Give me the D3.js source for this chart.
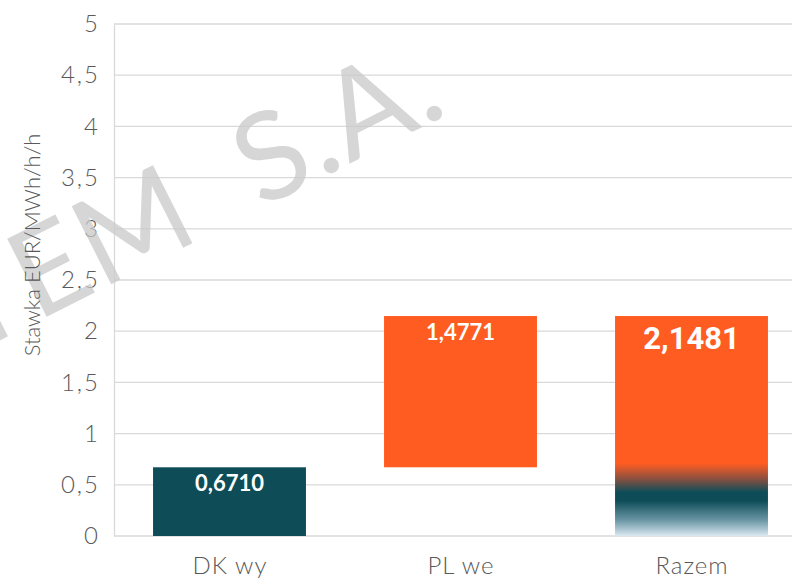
<!DOCTYPE html>
<html>
<head>
<meta charset="utf-8">
<script src="https://cdn.jsdelivr.net/npm/d3@7"></script>
<style>
  body { margin: 0; background: #fff; }
  svg { display: block; }
  text { font-family: Lato, "Noto Sans", sans-serif; }
</style>
</head>
<body>
<div id="vis"></div>
<script>
// dane wykresu (waterfall)
const categories = ["DK wy", "PL we", "Razem"];
const starts = [0, 0.6710, 0];
const values = [0.6710, 1.4771, 2.1481];
const labels = ["0,6710", "1,4771", "2,1481"];
const yTicks = [0, 0.5, 1, 1.5, 2, 2.5, 3, 3.5, 4, 4.5, 5];

const W = 792, H = 581;
const svg = d3.select("#vis").append("svg")
    .attr("width", W)
    .attr("height", H);

const x = d3.scaleBand()
    .domain(categories)
    .range([114, 807])
    .paddingInner(0.338)
    .paddingOuter(0.169);

const y = d3.scaleLinear()
    .domain([0, 5])
    .range([536, 24]);

const fmt = d => String(d).replace(".", ",");

// gradient dla słupka Razem
const defs = svg.append("defs");
const grad = defs.append("linearGradient")
    .attr("id", "razemGrad")
    .attr("x1", 0).attr("y1", 0).attr("x2", 0).attr("y2", 1);
[
  [0, "#ff5c22"], [0.67, "#ff5c22"], [0.74, "#8a5040"], [0.8, "#0e4d58"],
  [0.84, "#0e4d58"], [0.93, "#6d98a6"], [1, "#dce9f2"]
].forEach(([o, c]) => grad.append("stop").attr("offset", o).attr("stop-color", c));

// siatka
svg.append("g")
    .selectAll("line")
    .data(yTicks)
    .enter().append("line")
    .attr("x1", 114).attr("x2", W)
    .attr("y1", d => y(d)).attr("y2", d => y(d))
    .attr("stroke", "#d9d9d9")
    .attr("stroke-width", 1.3);

// oś y
const yAxis = svg.append("g")
    .attr("transform", "translate(114,0)")
    .call(d3.axisLeft(y).tickValues(yTicks).tickFormat(fmt).tickSize(0).tickPadding(14));
yAxis.select(".domain").attr("stroke", "#d9d9d9").attr("stroke-width", 1.3);
yAxis.selectAll("text")
    .attr("fill", "#595959")
    .style("font-weight", 300)
    .style("letter-spacing", "2px")
    .style("font-size", "24px");

// znak wodny
svg.append("text")
    .attr("transform", "translate(452,112) rotate(-26.8)")
    .attr("text-anchor", "end")
    .attr("fill", "#c8c8c8")
    .attr("fill-opacity", 0.75)
    .style("word-spacing", "30px")
    .style("letter-spacing", "2px")
    .style("font-size", "122px")
    .text("GAZ-SYSTEM S.A.");

// słupki
const colors = ["#0e4d58", "#ff5c22", "url(#razemGrad)"];
svg.selectAll(".bar")
    .data(categories)
    .enter().append("rect")
    .attr("class", "bar")
    .attr("x", d => x(d))
    .attr("width", x.bandwidth())
    .attr("y", (d, i) => y(starts[i] + values[i]))
    .attr("height", (d, i) => y(starts[i]) - y(starts[i] + values[i]))
    .attr("fill", (d, i) => colors[i]);

// etykiety danych
svg.selectAll(".lbl")
    .data(categories)
    .enter().append("text")
    .attr("class", "lbl")
    .attr("x", d => x(d) + x.bandwidth() / 2)
    .attr("y", (d, i) => y(starts[i] + values[i]) + (i === 2 ? 33 : 24))
    .attr("text-anchor", "middle")
    .attr("fill", "#fff")
    .style("font-weight", "bold")
    .style("font-family", (d, i) => i === 2 ? "Roboto, sans-serif" : null)
    .style("font-size", (d, i) => i === 2 ? "31px" : "22px")
    .text((d, i) => labels[i]);

// oś x
const xAxis = svg.append("g")
    .attr("transform", "translate(0,536)")
    .call(d3.axisBottom(x).tickSize(0).tickPadding(21));
xAxis.select(".domain").remove();
xAxis.selectAll("text")
    .attr("fill", "#595959")
    .attr("dx", "0.5")
    .style("font-weight", 300)
    .style("letter-spacing", "1px")
    .style("font-size", "24px");

// tytuł osi y
svg.append("text")
    .attr("transform", "translate(40,245) rotate(-90)")
    .attr("text-anchor", "middle")
    .attr("fill", "#595959")
    .style("font-weight", 300)
    .style("font-size", "22px")
    .text("Stawka EUR/MWh/h/h");
</script>
</body>
</html>
